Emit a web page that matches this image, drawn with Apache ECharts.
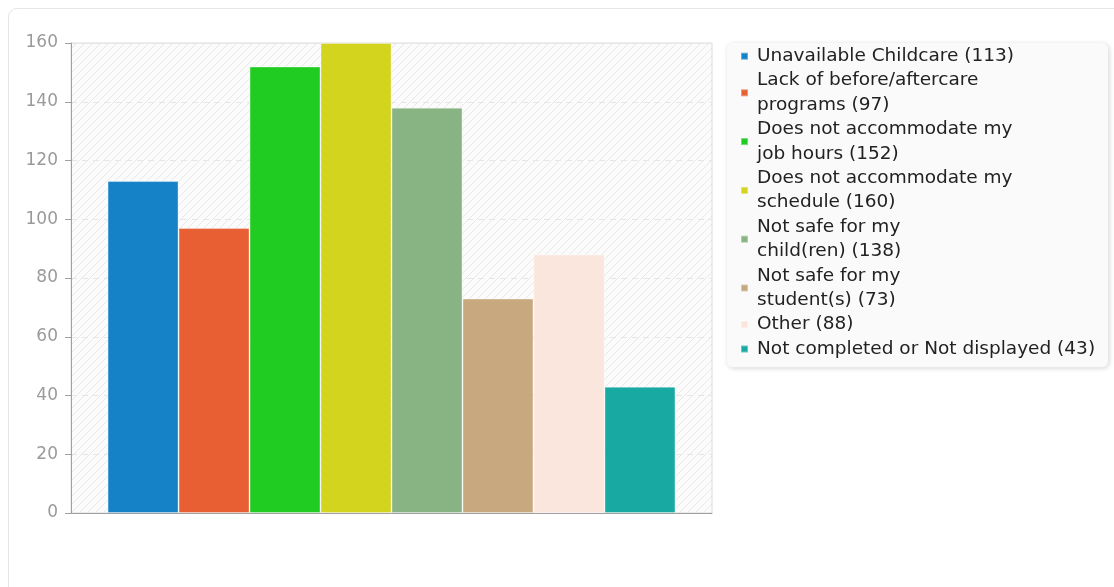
<!DOCTYPE html>
<html>
<head>
<meta charset="utf-8">
<script src="https://cdn.jsdelivr.net/npm/echarts@6/dist/echarts.min.js"></script>
<style>
html,body{margin:0;padding:0;background:#fff;overflow:hidden;}
#card{position:absolute;left:8px;top:8px;width:1300px;height:800px;border:1px solid #e6e6e6;border-radius:9px;box-sizing:border-box;}
#chart{position:absolute;left:0;top:0;width:1114px;height:587px;}
</style>
</head>
<body>
<div id="card"></div>
<div id="chart"></div>
<script>
const seriesNames = [
  'Unavailable Childcare',
  'Lack of before/aftercare programs',
  'Does not accommodate my job hours',
  'Does not accommodate my schedule',
  'Not safe for my child(ren)',
  'Not safe for my student(s)',
  'Other',
  'Not completed or Not displayed'
];
const seriesValues = [113, 97, 152, 160, 138, 73, 88, 43];
const legendLabels = [
  'Unavailable Childcare (113)',
  'Lack of before/aftercare\nprograms (97)',
  'Does not accommodate my\njob hours (152)',
  'Does not accommodate my\nschedule (160)',
  'Not safe for my\nchild(ren) (138)',
  'Not safe for my\nstudent(s) (73)',
  'Other (88)',
  'Not completed or Not displayed (43)'
];
const seriesColors = ['#1582c8', '#e85f34', '#20cc22', '#d3d41e', '#88b383', '#c8a97f', '#fae6dd', '#18a9a2'];
const categories = [''];
const yMin = 0, yMax = 160, yInterval = 20;

// hatched background pattern
const pc = document.createElement('canvas');
pc.width = 8; pc.height = 8;
const g = pc.getContext('2d');
g.fillStyle = '#fbfbfb';
g.fillRect(0, 0, 8, 8);
g.strokeStyle = '#e8e8e8';
g.lineWidth = 1;
g.beginPath();
g.moveTo(0, 8); g.lineTo(8, 0);
g.moveTo(-4, 4); g.lineTo(4, -4);
g.moveTo(4, 12); g.lineTo(12, 4);
g.stroke();

const chart = echarts.init(document.getElementById('chart'), null, {renderer: 'canvas'});
const font = 'DejaVu Sans';
const option = {
  animation: false,
  backgroundColor: 'transparent',
  grid: {
    left: 71, top: 43, right: 402, bottom: 74,
    show: true,
    backgroundColor: {image: pc, repeat: 'repeat'},
    borderColor: '#dcdcdc',
    borderWidth: 1
  },
  legend: {
    orient: 'vertical',
    left: 727, top: 43,
    padding: [1, 13, 6, 13],
    itemGap: 0,
    itemWidth: 7,
    itemHeight: 7,
    icon: 'rect',
    backgroundColor: '#fafafa',
    borderRadius: 6,
    shadowBlur: 5,
    shadowColor: 'rgba(0,0,0,0.18)',
    shadowOffsetX: 1,
    shadowOffsetY: 1,
    data: seriesNames,
    formatter: function (name) { return legendLabels[seriesNames.indexOf(name)]; },
    textStyle: {
      fontFamily: font, fontSize: 18.5, color: '#222', lineHeight: 24.4,
      padding: [0, 0, 0, 4]
    }
  },
  xAxis: {
    type: 'category',
    data: categories,
    axisLine: {lineStyle: {color: '#a0a0a0', width: 1}},
    axisTick: {show: false},
    axisLabel: {show: false},
    splitLine: {show: false}
  },
  yAxis: {
    type: 'value',
    min: yMin, max: yMax, interval: yInterval,
    axisLine: {show: true, lineStyle: {color: '#a0a0a0', width: 1}},
    axisTick: {show: true, length: 6, lineStyle: {color: '#a0a0a0'}},
    axisLabel: {fontFamily: font, fontSize: 17, color: '#9a9a9a', margin: 13},
    splitLine: {show: true, lineStyle: {color: '#e6e6e6', type: [6, 5], width: 1}}
  },
  series: seriesNames.map(function (n, i) {
    return {
      name: n,
      type: 'bar',
      data: [seriesValues[i]],
      barGap: '0%',
      barCategoryGap: '11.4%',
      itemStyle: {color: seriesColors[i], borderColor: 'rgba(255,255,255,0.35)', borderWidth: 1}
    };
  })
};
chart.setOption(option);
</script>
</body>
</html>
